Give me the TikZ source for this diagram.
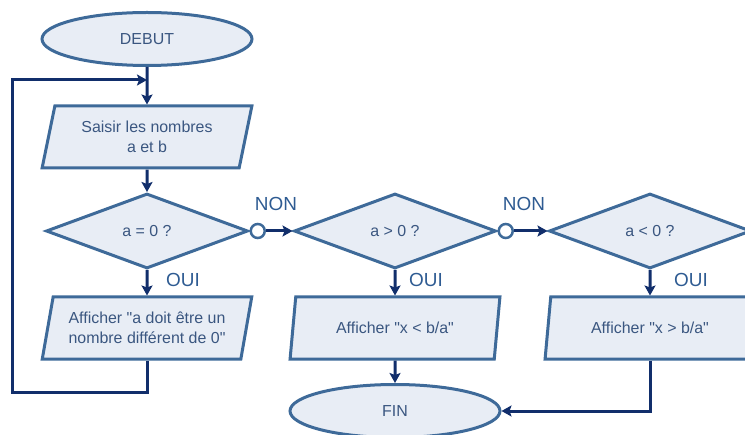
\documentclass[tikz,border=0pt]{standalone}
\usepackage{fontspec}
\setmainfont{Liberation Sans}
\usetikzlibrary{shapes.geometric, arrows.meta, positioning}
\definecolor{bordure}{RGB}{62,106,153}
\definecolor{fond}{RGB}{232,237,245}
\definecolor{fleche}{RGB}{17,46,107}
\definecolor{texte}{RGB}{58,86,128}
\definecolor{etiquette}{RGB}{46,91,146}

\begin{document}
\begin{tikzpicture}[x=1bp, y=-1bp,
  forme/.style={draw=bordure, fill=fond, line width=3bp, text=texte,
    font=\fontsize{16}{20}\selectfont, align=center, inner sep=0pt},
  terminal/.style={forme, ellipse, minimum width=210bp, minimum height=53bp},
  entree/.style={forme, trapezium, trapezium left angle=74, trapezium right angle=106,
    trapezium stretches=true, minimum width=210bp, minimum height=62bp},
  test/.style={forme, diamond, minimum width=202bp, minimum height=75bp},
  rond/.style={circle, draw=bordure, fill=white, line width=2.5bp, minimum size=14bp, inner sep=0pt},
  lien/.style={draw=fleche, line width=3bp, -{Stealth[length=10bp, width=11bp, inset=2bp]}},
  etiq/.style={text=etiquette, font=\fontsize{19}{22}\selectfont, inner sep=0pt}]
\useasboundingbox (0,0) rectangle (745,435);

% premiere colonne
\node[terminal] (debut) at (147,39) {DEBUT};
\node[entree] (saisie) at (147,137) {Saisir les nombres\\a et b};
\node[test] (test1) at (147,231) {a = 0 ?};
\node[entree] (aff1) at (147,328) {Afficher \textquotedbl a doit être un\\nombre différent de 0\textquotedbl};

% deuxieme colonne
\node[test] (test2) at (395,231) {a > 0 ?};
\node[entree] (aff2) at (395,328) {Afficher \textquotedbl x < b/a\textquotedbl};
\node[terminal] (fin) at (395,411) {FIN};

% troisieme colonne
\node[test] (test3) at (650,231) {a < 0 ?};
\node[entree] (aff3) at (650,328) {Afficher \textquotedbl x > b/a\textquotedbl};

% branchements NON
\node[rond, right=0pt of test1] (non1) {};
\node[rond, right=0pt of test2] (non2) {};

% etiquettes
\node[etiq] (lnon1) at (276,204) {NON};
\node[etiq] (lnon2) at (524,204) {NON};
\node[etiq] (loui1) at (183,280) {OUI};
\node[etiq] (loui2) at (426,280) {OUI};
\node[etiq] (loui3) at (691,280) {OUI};

\coordinate (jonction) at (147,80);
\coordinate (bas) at (12,392);
\coordinate (haut) at (12,80);

\draw[lien] (debut) -- (saisie);
\draw[lien] (saisie) -- (test1);
\draw[lien] (test1) -- (aff1);
\draw[lien] (aff1.south) |- (bas) -- (haut) -- (jonction);
\draw[lien] (non1) -- (test2.west);
\draw[lien] (test2) -- (aff2);
\draw[lien] (aff2) -- (fin);
\draw[lien] (non2) -- (test3.west);
\draw[lien] (test3) -- (aff3);
\draw[lien] (aff3.south) |- (fin.east);
\end{tikzpicture}
\end{document}
